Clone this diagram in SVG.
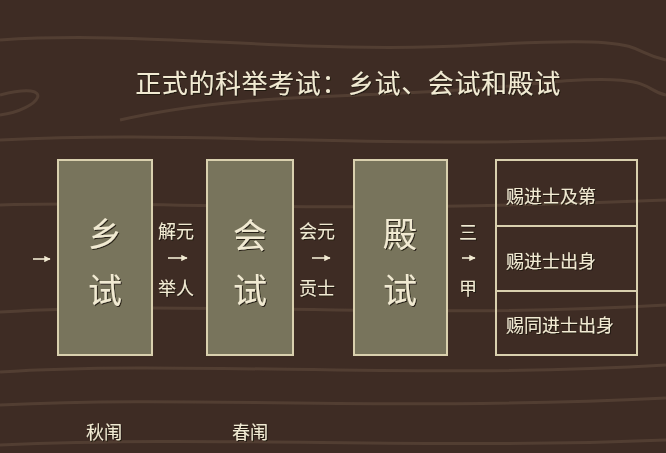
<svg xmlns="http://www.w3.org/2000/svg" width="666" height="453" viewBox="0 0 666 453">
<defs>
<style>
text{font-family:"Noto Sans CJK SC","Noto Sans CJK TC",sans-serif;fill:#f1ead2;filter:url(#sh)}
.big{font-size:34px;text-anchor:middle;dominant-baseline:central}
.lbl{font-size:18px;text-anchor:middle;dominant-baseline:central}
.row{font-size:18px;dominant-baseline:central}
.box{fill:#78745c;stroke:#d9d0ae;stroke-width:2}
.grain{fill:none;stroke:#6b5444;stroke-width:3;opacity:.45}
.conn{stroke:#f1ead2;stroke-width:1.6;fill:none}
</style>
<filter id="sh" x="-20%" y="-20%" width="140%" height="140%">
<feDropShadow dx="1" dy="1" stdDeviation="0.6" flood-color="#1a120c" flood-opacity="0.9"/>
</filter>
<marker id="ah" viewBox="0 0 10 10" refX="9" refY="5" markerWidth="4" markerHeight="4" orient="auto">
<path d="M0,0 L10,5 L0,10 z" fill="#f1ead2"/>
</marker>
</defs>
<rect width="666" height="453" fill="#3e2c24"/>
<g id="grain">
<path class="grain" d="M0,40 C150,30 300,55 480,45 S620,50 666,60"/>
<path class="grain" d="M0,95 C60,80 40,110 0,115 M120,120 C250,90 380,100 520,85 S640,90 666,95"/>
<path class="grain" d="M0,140 C200,130 350,150 666,138"/>
<path class="grain" d="M0,205 C150,200 300,215 666,200"/>
<path class="grain" d="M0,312 C200,300 400,320 666,305"/>
<path class="grain" d="M0,372 C180,360 420,380 666,365"/>
<path class="grain" d="M0,405 C200,395 380,412 666,398"/>
<path class="grain" d="M0,445 C220,435 420,450 666,440"/>
</g>
<g id="title">
<text x="348" y="81" style="font-size:26px;text-anchor:middle;dominant-baseline:central;letter-spacing:0.6px">正式的科举考试：乡试、会试和殿试</text>
</g>
<g id="node-xiangshi">
<rect class="box" x="58" y="160" width="94" height="195"/>
<text class="big" x="105" y="232">乡</text>
<text class="big" x="105" y="288">试</text>
</g>
<g id="node-huishi">
<rect class="box" x="207" y="160" width="86" height="195"/>
<text class="big" x="250" y="233">会</text>
<text class="big" x="250" y="288">试</text>
</g>
<g id="node-dianshi">
<rect class="box" x="354" y="160" width="93" height="195"/>
<text class="big" x="400" y="232">殿</text>
<text class="big" x="400" y="288">试</text>
</g>
<g id="node-results">
<rect x="496" y="160" width="141" height="195" fill="none" stroke="#d9d0ae" stroke-width="2"/>
<line x1="496" y1="226" x2="637" y2="226" stroke="#d9d0ae" stroke-width="2"/>
<line x1="496" y1="291" x2="637" y2="291" stroke="#d9d0ae" stroke-width="2"/>
<text class="row" x="506" y="195">赐进士及第</text>
<text class="row" x="506" y="260">赐进士出身</text>
<text class="row" x="506" y="324">赐同进士出身</text>
</g>
<g id="connectors">
<line class="conn" x1="33" y1="259" x2="50" y2="259" marker-end="url(#ah)"/>
<line class="conn" x1="168" y1="258" x2="187" y2="258" marker-end="url(#ah)"/>
<line class="conn" x1="312" y1="258" x2="330" y2="258" marker-end="url(#ah)"/>
<line class="conn" x1="462" y1="258" x2="475" y2="258" marker-end="url(#ah)"/>
</g>
<g id="labels">
<text class="lbl" x="176" y="230">解元</text>
<text class="lbl" x="176" y="287">举人</text>
<text class="lbl" x="317" y="230">会元</text>
<text class="lbl" x="317" y="287">贡士</text>
<text class="lbl" x="468" y="231">三</text>
<text class="lbl" x="468" y="287">甲</text>
<text class="lbl" x="104" y="431">秋闱</text>
<text class="lbl" x="250" y="431">春闱</text>
</g>
</svg>
